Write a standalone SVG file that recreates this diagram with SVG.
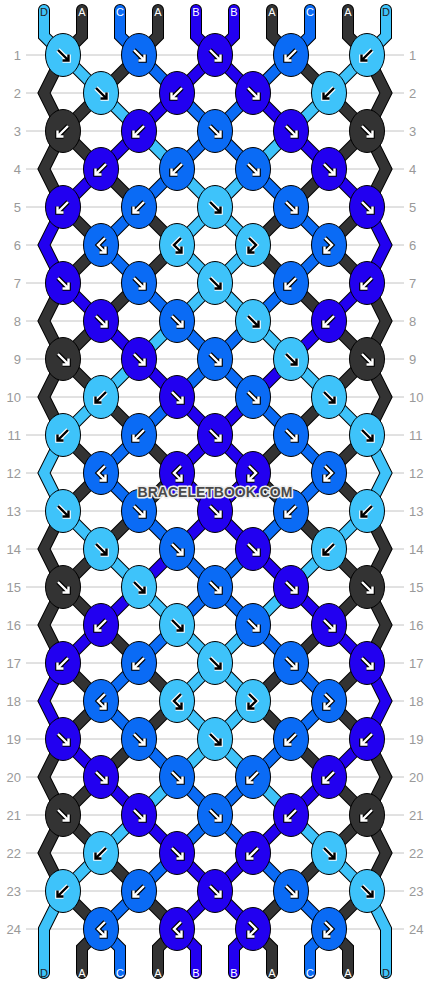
<svg xmlns="http://www.w3.org/2000/svg" xmlns:xlink="http://www.w3.org/1999/xlink" width="430" height="984" viewBox="0 0 430 984">
<style>
.gl{stroke:#c4c4c4;stroke-width:1}
.rn{font-family:"Liberation Sans",Arial,sans-serif;font-size:13px;fill:#999}
.rl{text-anchor:end}
.so{fill:none;stroke:#000;stroke-width:12;stroke-linejoin:miter;stroke-linecap:round}
.sc{fill:none;stroke-width:10;stroke-linejoin:miter;stroke-linecap:round}
.cD{stroke:#3EC3FA}.cA{stroke:#333333}.cC{stroke:#0A6BF5}.cB{stroke:#2200F0}
ellipse{stroke:#000;stroke-width:1}
.kD{fill:#3EC3FA}.kA{fill:#333333}.kC{fill:#0A6BF5}.kB{fill:#2200F0}
.aw{stroke:#000;color:#fff}
.ab{stroke:#fff;color:#000}
.ao{fill:none;stroke-width:4.6;stroke-linejoin:miter}
.ai{fill:none;stroke:currentColor;stroke-width:2.4;stroke-linejoin:miter}
.lt{font-family:"Liberation Sans",Arial,sans-serif;font-size:11px;text-anchor:middle;fill:#fff}
.ld{fill:#222}
.wm{font-family:"Liberation Sans",Arial,sans-serif;font-size:14px;font-weight:bold;text-anchor:middle;fill:#4a4a4a;stroke:#eee;stroke-width:3;paint-order:stroke;stroke-linejoin:round}
</style>
<defs>
<g id="aF"><path class="ao" d="M-5,-5 L4.5,4.5 M5.5,-0.5 L5.5,5.5 L-0.5,5.5"/><path class="ai" d="M-5,-5 L4.5,4.5 M5.5,-0.5 L5.5,5.5 L-0.5,5.5"/></g>
<g id="aB"><path class="ao" d="M5,-5 L-4.5,4.5 M-5.5,-0.5 L-5.5,5.5 L0.5,5.5"/><path class="ai" d="M5,-5 L-4.5,4.5 M-5.5,-0.5 L-5.5,5.5 L0.5,5.5"/></g>
<g id="aBF"><path class="ao" d="M4,-7 L-3,0 L3.5,6.5 M4.5,1.5 L4.5,7.5 L-1.5,7.5"/><path class="ai" d="M4,-7 L-3,0 L3.5,6.5 M4.5,1.5 L4.5,7.5 L-1.5,7.5"/></g>
<g id="aFB"><path class="ao" d="M-4,-7 L3,0 L-3.5,6.5 M-4.5,1.5 L-4.5,7.5 L1.5,7.5"/><path class="ai" d="M-4,-7 L3,0 L-3.5,6.5 M-4.5,1.5 L-4.5,7.5 L1.5,7.5"/></g>
</defs>
<rect width="430" height="984" fill="#fff"/>
<g id="grid">
<line class="gl" x1="26" y1="55" x2="404" y2="55"/><line class="gl" x1="26" y1="93" x2="404" y2="93"/><line class="gl" x1="26" y1="131" x2="404" y2="131"/><line class="gl" x1="26" y1="169" x2="404" y2="169"/><line class="gl" x1="26" y1="207" x2="404" y2="207"/><line class="gl" x1="26" y1="245" x2="404" y2="245"/><line class="gl" x1="26" y1="283" x2="404" y2="283"/><line class="gl" x1="26" y1="321" x2="404" y2="321"/><line class="gl" x1="26" y1="359" x2="404" y2="359"/><line class="gl" x1="26" y1="397" x2="404" y2="397"/><line class="gl" x1="26" y1="435" x2="404" y2="435"/><line class="gl" x1="26" y1="473" x2="404" y2="473"/><line class="gl" x1="26" y1="511" x2="404" y2="511"/><line class="gl" x1="26" y1="549" x2="404" y2="549"/><line class="gl" x1="26" y1="587" x2="404" y2="587"/><line class="gl" x1="26" y1="625" x2="404" y2="625"/><line class="gl" x1="26" y1="663" x2="404" y2="663"/><line class="gl" x1="26" y1="701" x2="404" y2="701"/><line class="gl" x1="26" y1="739" x2="404" y2="739"/><line class="gl" x1="26" y1="777" x2="404" y2="777"/><line class="gl" x1="26" y1="815" x2="404" y2="815"/><line class="gl" x1="26" y1="853" x2="404" y2="853"/><line class="gl" x1="26" y1="891" x2="404" y2="891"/><line class="gl" x1="26" y1="929" x2="404" y2="929"/>
</g>
<g id="rownums" class="rn">
<text class="rl" x="21" y="59.5">1</text><text class="rl" x="21" y="97.5">2</text><text class="rl" x="21" y="135.5">3</text><text class="rl" x="21" y="173.5">4</text><text class="rl" x="21" y="211.5">5</text><text class="rl" x="21" y="249.5">6</text><text class="rl" x="21" y="287.5">7</text><text class="rl" x="21" y="325.5">8</text><text class="rl" x="21" y="363.5">9</text><text class="rl" x="21" y="401.5">10</text><text class="rl" x="21" y="439.5">11</text><text class="rl" x="21" y="477.5">12</text><text class="rl" x="21" y="515.5">13</text><text class="rl" x="21" y="553.5">14</text><text class="rl" x="21" y="591.5">15</text><text class="rl" x="21" y="629.5">16</text><text class="rl" x="21" y="667.5">17</text><text class="rl" x="21" y="705.5">18</text><text class="rl" x="21" y="743.5">19</text><text class="rl" x="21" y="781.5">20</text><text class="rl" x="21" y="819.5">21</text><text class="rl" x="21" y="857.5">22</text><text class="rl" x="21" y="895.5">23</text><text class="rl" x="21" y="933.5">24</text>
<text x="409" y="59.5">1</text><text x="409" y="97.5">2</text><text x="409" y="135.5">3</text><text x="409" y="173.5">4</text><text x="409" y="211.5">5</text><text x="409" y="249.5">6</text><text x="409" y="287.5">7</text><text x="409" y="325.5">8</text><text x="409" y="363.5">9</text><text x="409" y="401.5">10</text><text x="409" y="439.5">11</text><text x="409" y="477.5">12</text><text x="409" y="515.5">13</text><text x="409" y="553.5">14</text><text x="409" y="591.5">15</text><text x="409" y="629.5">16</text><text x="409" y="667.5">17</text><text x="409" y="705.5">18</text><text x="409" y="743.5">19</text><text x="409" y="781.5">20</text><text x="409" y="819.5">21</text><text x="409" y="857.5">22</text><text x="409" y="895.5">23</text><text x="409" y="933.5">24</text>
</g>
<g id="connectors">
<g id="outlines" class="so">
<polyline id="o0" points="44,10 44,36 63,55 101,93 139,131 177,169 215,207 253,245 215,283 177,321 139,359 101,397 63,435 44,473 63,511 101,549 139,587 177,625 215,663 253,701 215,739 177,777 139,815 101,853 63,891 44,929 44,948 44,973"/>
<polyline id="o1" points="82,10 82,36 63,55 44,93 63,131 101,169 139,207 177,245 139,283 101,321 63,359 44,397 63,435 101,473 63,511 44,549 63,587 101,625 139,663 177,701 139,739 101,777 63,815 44,853 63,891 101,929 82,948 82,973"/>
<polyline id="o2" points="120,10 120,36 139,55 177,93 215,131 253,169 291,207 329,245 291,283 253,321 215,359 177,397 139,435 101,473 139,511 177,549 215,587 253,625 291,663 329,701 291,739 253,777 215,815 177,853 139,891 101,929 120,948 120,973"/>
<polyline id="o3" points="158,10 158,36 139,55 101,93 63,131 44,169 63,207 101,245 63,283 44,321 63,359 101,397 139,435 177,473 139,511 101,549 63,587 44,625 63,663 101,701 63,739 44,777 63,815 101,853 139,891 177,929 158,948 158,973"/>
<polyline id="o4" points="196,10 196,36 215,55 253,93 291,131 329,169 367,207 386,245 367,283 329,321 291,359 253,397 215,435 177,473 215,511 253,549 291,587 329,625 367,663 386,701 367,739 329,777 291,815 253,853 215,891 177,929 196,948 196,973"/>
<polyline id="o5" points="234,10 234,36 215,55 177,93 139,131 101,169 63,207 44,245 63,283 101,321 139,359 177,397 215,435 253,473 215,511 177,549 139,587 101,625 63,663 44,701 63,739 101,777 139,815 177,853 215,891 253,929 234,948 234,973"/>
<polyline id="o6" points="272,10 272,36 291,55 329,93 367,131 386,169 367,207 329,245 367,283 386,321 367,359 329,397 291,435 253,473 291,511 329,549 367,587 386,625 367,663 329,701 367,739 386,777 367,815 329,853 291,891 253,929 272,948 272,973"/>
<polyline id="o7" points="310,10 310,36 291,55 253,93 215,131 177,169 139,207 101,245 139,283 177,321 215,359 253,397 291,435 329,473 291,511 253,549 215,587 177,625 139,663 101,701 139,739 177,777 215,815 253,853 291,891 329,929 310,948 310,973"/>
<polyline id="o8" points="348,10 348,36 367,55 386,93 367,131 329,169 291,207 253,245 291,283 329,321 367,359 386,397 367,435 329,473 367,511 386,549 367,587 329,625 291,663 253,701 291,739 329,777 367,815 386,853 367,891 329,929 348,948 348,973"/>
<polyline id="o9" points="386,10 386,36 367,55 329,93 291,131 253,169 215,207 177,245 215,283 253,321 291,359 329,397 367,435 386,473 367,511 329,549 291,587 253,625 215,663 177,701 215,739 253,777 291,815 329,853 367,891 386,929 386,948 386,973"/>
</g>
<g id="strings">
<use xlink:href="#o0" href="#o0" class="sc cD"/>
<use xlink:href="#o1" href="#o1" class="sc cA"/>
<use xlink:href="#o2" href="#o2" class="sc cC"/>
<use xlink:href="#o3" href="#o3" class="sc cA"/>
<use xlink:href="#o4" href="#o4" class="sc cB"/>
<use xlink:href="#o5" href="#o5" class="sc cB"/>
<use xlink:href="#o6" href="#o6" class="sc cA"/>
<use xlink:href="#o7" href="#o7" class="sc cC"/>
<use xlink:href="#o8" href="#o8" class="sc cA"/>
<use xlink:href="#o9" href="#o9" class="sc cD"/>
</g>
</g>
<g id="knots">
<g id="k1-1"><ellipse class="kD" cx="63" cy="55" rx="17.5" ry="21.5"/><use href="#aF" x="63" y="55" class="ab"/></g>
<g id="k1-2"><ellipse class="kC" cx="139" cy="55" rx="17.5" ry="21.5"/><use href="#aF" x="139" y="55" class="aw"/></g>
<g id="k1-3"><ellipse class="kB" cx="215" cy="55" rx="17.5" ry="21.5"/><use href="#aF" x="215" y="55" class="aw"/></g>
<g id="k1-4"><ellipse class="kC" cx="291" cy="55" rx="17.5" ry="21.5"/><use href="#aB" x="291" y="55" class="aw"/></g>
<g id="k1-5"><ellipse class="kD" cx="367" cy="55" rx="17.5" ry="21.5"/><use href="#aB" x="367" y="55" class="ab"/></g>
<g id="k2-1"><ellipse class="kD" cx="101" cy="93" rx="17.5" ry="21.5"/><use href="#aF" x="101" y="93" class="ab"/></g>
<g id="k2-2"><ellipse class="kB" cx="177" cy="93" rx="17.5" ry="21.5"/><use href="#aB" x="177" y="93" class="aw"/></g>
<g id="k2-3"><ellipse class="kB" cx="253" cy="93" rx="17.5" ry="21.5"/><use href="#aF" x="253" y="93" class="aw"/></g>
<g id="k2-4"><ellipse class="kD" cx="329" cy="93" rx="17.5" ry="21.5"/><use href="#aB" x="329" y="93" class="ab"/></g>
<g id="k3-1"><ellipse class="kA" cx="63" cy="131" rx="17.5" ry="21.5"/><use href="#aB" x="63" y="131" class="aw"/></g>
<g id="k3-2"><ellipse class="kB" cx="139" cy="131" rx="17.5" ry="21.5"/><use href="#aB" x="139" y="131" class="aw"/></g>
<g id="k3-3"><ellipse class="kC" cx="215" cy="131" rx="17.5" ry="21.5"/><use href="#aF" x="215" y="131" class="aw"/></g>
<g id="k3-4"><ellipse class="kB" cx="291" cy="131" rx="17.5" ry="21.5"/><use href="#aF" x="291" y="131" class="aw"/></g>
<g id="k3-5"><ellipse class="kA" cx="367" cy="131" rx="17.5" ry="21.5"/><use href="#aF" x="367" y="131" class="aw"/></g>
<g id="k4-1"><ellipse class="kB" cx="101" cy="169" rx="17.5" ry="21.5"/><use href="#aB" x="101" y="169" class="aw"/></g>
<g id="k4-2"><ellipse class="kC" cx="177" cy="169" rx="17.5" ry="21.5"/><use href="#aB" x="177" y="169" class="aw"/></g>
<g id="k4-3"><ellipse class="kC" cx="253" cy="169" rx="17.5" ry="21.5"/><use href="#aF" x="253" y="169" class="aw"/></g>
<g id="k4-4"><ellipse class="kB" cx="329" cy="169" rx="17.5" ry="21.5"/><use href="#aF" x="329" y="169" class="aw"/></g>
<g id="k5-1"><ellipse class="kB" cx="63" cy="207" rx="17.5" ry="21.5"/><use href="#aB" x="63" y="207" class="aw"/></g>
<g id="k5-2"><ellipse class="kC" cx="139" cy="207" rx="17.5" ry="21.5"/><use href="#aB" x="139" y="207" class="aw"/></g>
<g id="k5-3"><ellipse class="kD" cx="215" cy="207" rx="17.5" ry="21.5"/><use href="#aF" x="215" y="207" class="ab"/></g>
<g id="k5-4"><ellipse class="kC" cx="291" cy="207" rx="17.5" ry="21.5"/><use href="#aF" x="291" y="207" class="aw"/></g>
<g id="k5-5"><ellipse class="kB" cx="367" cy="207" rx="17.5" ry="21.5"/><use href="#aF" x="367" y="207" class="aw"/></g>
<g id="k6-1"><ellipse class="kC" cx="101" cy="245" rx="17.5" ry="21.5"/><use href="#aBF" x="101" y="245" class="aw"/></g>
<g id="k6-2"><ellipse class="kD" cx="177" cy="245" rx="17.5" ry="21.5"/><use href="#aBF" x="177" y="245" class="ab"/></g>
<g id="k6-3"><ellipse class="kD" cx="253" cy="245" rx="17.5" ry="21.5"/><use href="#aFB" x="253" y="245" class="ab"/></g>
<g id="k6-4"><ellipse class="kC" cx="329" cy="245" rx="17.5" ry="21.5"/><use href="#aFB" x="329" y="245" class="aw"/></g>
<g id="k7-1"><ellipse class="kB" cx="63" cy="283" rx="17.5" ry="21.5"/><use href="#aF" x="63" y="283" class="aw"/></g>
<g id="k7-2"><ellipse class="kC" cx="139" cy="283" rx="17.5" ry="21.5"/><use href="#aF" x="139" y="283" class="aw"/></g>
<g id="k7-3"><ellipse class="kD" cx="215" cy="283" rx="17.5" ry="21.5"/><use href="#aF" x="215" y="283" class="ab"/></g>
<g id="k7-4"><ellipse class="kC" cx="291" cy="283" rx="17.5" ry="21.5"/><use href="#aB" x="291" y="283" class="aw"/></g>
<g id="k7-5"><ellipse class="kB" cx="367" cy="283" rx="17.5" ry="21.5"/><use href="#aB" x="367" y="283" class="aw"/></g>
<g id="k8-1"><ellipse class="kB" cx="101" cy="321" rx="17.5" ry="21.5"/><use href="#aF" x="101" y="321" class="aw"/></g>
<g id="k8-2"><ellipse class="kC" cx="177" cy="321" rx="17.5" ry="21.5"/><use href="#aF" x="177" y="321" class="aw"/></g>
<g id="k8-3"><ellipse class="kD" cx="253" cy="321" rx="17.5" ry="21.5"/><use href="#aF" x="253" y="321" class="ab"/></g>
<g id="k8-4"><ellipse class="kB" cx="329" cy="321" rx="17.5" ry="21.5"/><use href="#aB" x="329" y="321" class="aw"/></g>
<g id="k9-1"><ellipse class="kA" cx="63" cy="359" rx="17.5" ry="21.5"/><use href="#aF" x="63" y="359" class="aw"/></g>
<g id="k9-2"><ellipse class="kB" cx="139" cy="359" rx="17.5" ry="21.5"/><use href="#aF" x="139" y="359" class="aw"/></g>
<g id="k9-3"><ellipse class="kC" cx="215" cy="359" rx="17.5" ry="21.5"/><use href="#aF" x="215" y="359" class="aw"/></g>
<g id="k9-4"><ellipse class="kD" cx="291" cy="359" rx="17.5" ry="21.5"/><use href="#aF" x="291" y="359" class="ab"/></g>
<g id="k9-5"><ellipse class="kA" cx="367" cy="359" rx="17.5" ry="21.5"/><use href="#aF" x="367" y="359" class="aw"/></g>
<g id="k10-1"><ellipse class="kD" cx="101" cy="397" rx="17.5" ry="21.5"/><use href="#aB" x="101" y="397" class="ab"/></g>
<g id="k10-2"><ellipse class="kB" cx="177" cy="397" rx="17.5" ry="21.5"/><use href="#aF" x="177" y="397" class="aw"/></g>
<g id="k10-3"><ellipse class="kC" cx="253" cy="397" rx="17.5" ry="21.5"/><use href="#aF" x="253" y="397" class="aw"/></g>
<g id="k10-4"><ellipse class="kD" cx="329" cy="397" rx="17.5" ry="21.5"/><use href="#aF" x="329" y="397" class="ab"/></g>
<g id="k11-1"><ellipse class="kD" cx="63" cy="435" rx="17.5" ry="21.5"/><use href="#aB" x="63" y="435" class="ab"/></g>
<g id="k11-2"><ellipse class="kC" cx="139" cy="435" rx="17.5" ry="21.5"/><use href="#aB" x="139" y="435" class="aw"/></g>
<g id="k11-3"><ellipse class="kB" cx="215" cy="435" rx="17.5" ry="21.5"/><use href="#aF" x="215" y="435" class="aw"/></g>
<g id="k11-4"><ellipse class="kC" cx="291" cy="435" rx="17.5" ry="21.5"/><use href="#aF" x="291" y="435" class="aw"/></g>
<g id="k11-5"><ellipse class="kD" cx="367" cy="435" rx="17.5" ry="21.5"/><use href="#aF" x="367" y="435" class="ab"/></g>
<g id="k12-1"><ellipse class="kC" cx="101" cy="473" rx="17.5" ry="21.5"/><use href="#aBF" x="101" y="473" class="aw"/></g>
<g id="k12-2"><ellipse class="kB" cx="177" cy="473" rx="17.5" ry="21.5"/><use href="#aBF" x="177" y="473" class="aw"/></g>
<g id="k12-3"><ellipse class="kB" cx="253" cy="473" rx="17.5" ry="21.5"/><use href="#aFB" x="253" y="473" class="aw"/></g>
<g id="k12-4"><ellipse class="kC" cx="329" cy="473" rx="17.5" ry="21.5"/><use href="#aFB" x="329" y="473" class="aw"/></g>
<g id="k13-1"><ellipse class="kD" cx="63" cy="511" rx="17.5" ry="21.5"/><use href="#aF" x="63" y="511" class="ab"/></g>
<g id="k13-2"><ellipse class="kC" cx="139" cy="511" rx="17.5" ry="21.5"/><use href="#aF" x="139" y="511" class="aw"/></g>
<g id="k13-3"><ellipse class="kB" cx="215" cy="511" rx="17.5" ry="21.5"/><use href="#aF" x="215" y="511" class="aw"/></g>
<g id="k13-4"><ellipse class="kC" cx="291" cy="511" rx="17.5" ry="21.5"/><use href="#aB" x="291" y="511" class="aw"/></g>
<g id="k13-5"><ellipse class="kD" cx="367" cy="511" rx="17.5" ry="21.5"/><use href="#aB" x="367" y="511" class="ab"/></g>
<g id="k14-1"><ellipse class="kD" cx="101" cy="549" rx="17.5" ry="21.5"/><use href="#aF" x="101" y="549" class="ab"/></g>
<g id="k14-2"><ellipse class="kC" cx="177" cy="549" rx="17.5" ry="21.5"/><use href="#aF" x="177" y="549" class="aw"/></g>
<g id="k14-3"><ellipse class="kB" cx="253" cy="549" rx="17.5" ry="21.5"/><use href="#aF" x="253" y="549" class="aw"/></g>
<g id="k14-4"><ellipse class="kD" cx="329" cy="549" rx="17.5" ry="21.5"/><use href="#aB" x="329" y="549" class="ab"/></g>
<g id="k15-1"><ellipse class="kA" cx="63" cy="587" rx="17.5" ry="21.5"/><use href="#aF" x="63" y="587" class="aw"/></g>
<g id="k15-2"><ellipse class="kD" cx="139" cy="587" rx="17.5" ry="21.5"/><use href="#aF" x="139" y="587" class="ab"/></g>
<g id="k15-3"><ellipse class="kC" cx="215" cy="587" rx="17.5" ry="21.5"/><use href="#aF" x="215" y="587" class="aw"/></g>
<g id="k15-4"><ellipse class="kB" cx="291" cy="587" rx="17.5" ry="21.5"/><use href="#aF" x="291" y="587" class="aw"/></g>
<g id="k15-5"><ellipse class="kA" cx="367" cy="587" rx="17.5" ry="21.5"/><use href="#aF" x="367" y="587" class="aw"/></g>
<g id="k16-1"><ellipse class="kB" cx="101" cy="625" rx="17.5" ry="21.5"/><use href="#aB" x="101" y="625" class="aw"/></g>
<g id="k16-2"><ellipse class="kD" cx="177" cy="625" rx="17.5" ry="21.5"/><use href="#aF" x="177" y="625" class="ab"/></g>
<g id="k16-3"><ellipse class="kC" cx="253" cy="625" rx="17.5" ry="21.5"/><use href="#aF" x="253" y="625" class="aw"/></g>
<g id="k16-4"><ellipse class="kB" cx="329" cy="625" rx="17.5" ry="21.5"/><use href="#aF" x="329" y="625" class="aw"/></g>
<g id="k17-1"><ellipse class="kB" cx="63" cy="663" rx="17.5" ry="21.5"/><use href="#aB" x="63" y="663" class="aw"/></g>
<g id="k17-2"><ellipse class="kC" cx="139" cy="663" rx="17.5" ry="21.5"/><use href="#aB" x="139" y="663" class="aw"/></g>
<g id="k17-3"><ellipse class="kD" cx="215" cy="663" rx="17.5" ry="21.5"/><use href="#aF" x="215" y="663" class="ab"/></g>
<g id="k17-4"><ellipse class="kC" cx="291" cy="663" rx="17.5" ry="21.5"/><use href="#aF" x="291" y="663" class="aw"/></g>
<g id="k17-5"><ellipse class="kB" cx="367" cy="663" rx="17.5" ry="21.5"/><use href="#aF" x="367" y="663" class="aw"/></g>
<g id="k18-1"><ellipse class="kC" cx="101" cy="701" rx="17.5" ry="21.5"/><use href="#aBF" x="101" y="701" class="aw"/></g>
<g id="k18-2"><ellipse class="kD" cx="177" cy="701" rx="17.5" ry="21.5"/><use href="#aBF" x="177" y="701" class="ab"/></g>
<g id="k18-3"><ellipse class="kD" cx="253" cy="701" rx="17.5" ry="21.5"/><use href="#aFB" x="253" y="701" class="ab"/></g>
<g id="k18-4"><ellipse class="kC" cx="329" cy="701" rx="17.5" ry="21.5"/><use href="#aFB" x="329" y="701" class="aw"/></g>
<g id="k19-1"><ellipse class="kB" cx="63" cy="739" rx="17.5" ry="21.5"/><use href="#aF" x="63" y="739" class="aw"/></g>
<g id="k19-2"><ellipse class="kC" cx="139" cy="739" rx="17.5" ry="21.5"/><use href="#aF" x="139" y="739" class="aw"/></g>
<g id="k19-3"><ellipse class="kD" cx="215" cy="739" rx="17.5" ry="21.5"/><use href="#aF" x="215" y="739" class="ab"/></g>
<g id="k19-4"><ellipse class="kC" cx="291" cy="739" rx="17.5" ry="21.5"/><use href="#aB" x="291" y="739" class="aw"/></g>
<g id="k19-5"><ellipse class="kB" cx="367" cy="739" rx="17.5" ry="21.5"/><use href="#aB" x="367" y="739" class="aw"/></g>
<g id="k20-1"><ellipse class="kB" cx="101" cy="777" rx="17.5" ry="21.5"/><use href="#aF" x="101" y="777" class="aw"/></g>
<g id="k20-2"><ellipse class="kC" cx="177" cy="777" rx="17.5" ry="21.5"/><use href="#aF" x="177" y="777" class="aw"/></g>
<g id="k20-3"><ellipse class="kC" cx="253" cy="777" rx="17.5" ry="21.5"/><use href="#aB" x="253" y="777" class="aw"/></g>
<g id="k20-4"><ellipse class="kB" cx="329" cy="777" rx="17.5" ry="21.5"/><use href="#aB" x="329" y="777" class="aw"/></g>
<g id="k21-1"><ellipse class="kA" cx="63" cy="815" rx="17.5" ry="21.5"/><use href="#aF" x="63" y="815" class="aw"/></g>
<g id="k21-2"><ellipse class="kB" cx="139" cy="815" rx="17.5" ry="21.5"/><use href="#aF" x="139" y="815" class="aw"/></g>
<g id="k21-3"><ellipse class="kC" cx="215" cy="815" rx="17.5" ry="21.5"/><use href="#aF" x="215" y="815" class="aw"/></g>
<g id="k21-4"><ellipse class="kB" cx="291" cy="815" rx="17.5" ry="21.5"/><use href="#aB" x="291" y="815" class="aw"/></g>
<g id="k21-5"><ellipse class="kA" cx="367" cy="815" rx="17.5" ry="21.5"/><use href="#aB" x="367" y="815" class="aw"/></g>
<g id="k22-1"><ellipse class="kD" cx="101" cy="853" rx="17.5" ry="21.5"/><use href="#aB" x="101" y="853" class="ab"/></g>
<g id="k22-2"><ellipse class="kB" cx="177" cy="853" rx="17.5" ry="21.5"/><use href="#aF" x="177" y="853" class="aw"/></g>
<g id="k22-3"><ellipse class="kB" cx="253" cy="853" rx="17.5" ry="21.5"/><use href="#aB" x="253" y="853" class="aw"/></g>
<g id="k22-4"><ellipse class="kD" cx="329" cy="853" rx="17.5" ry="21.5"/><use href="#aF" x="329" y="853" class="ab"/></g>
<g id="k23-1"><ellipse class="kD" cx="63" cy="891" rx="17.5" ry="21.5"/><use href="#aB" x="63" y="891" class="ab"/></g>
<g id="k23-2"><ellipse class="kC" cx="139" cy="891" rx="17.5" ry="21.5"/><use href="#aB" x="139" y="891" class="aw"/></g>
<g id="k23-3"><ellipse class="kB" cx="215" cy="891" rx="17.5" ry="21.5"/><use href="#aF" x="215" y="891" class="aw"/></g>
<g id="k23-4"><ellipse class="kC" cx="291" cy="891" rx="17.5" ry="21.5"/><use href="#aF" x="291" y="891" class="aw"/></g>
<g id="k23-5"><ellipse class="kD" cx="367" cy="891" rx="17.5" ry="21.5"/><use href="#aF" x="367" y="891" class="ab"/></g>
<g id="k24-1"><ellipse class="kC" cx="101" cy="929" rx="17.5" ry="21.5"/><use href="#aBF" x="101" y="929" class="aw"/></g>
<g id="k24-2"><ellipse class="kB" cx="177" cy="929" rx="17.5" ry="21.5"/><use href="#aBF" x="177" y="929" class="aw"/></g>
<g id="k24-3"><ellipse class="kB" cx="253" cy="929" rx="17.5" ry="21.5"/><use href="#aFB" x="253" y="929" class="aw"/></g>
<g id="k24-4"><ellipse class="kC" cx="329" cy="929" rx="17.5" ry="21.5"/><use href="#aFB" x="329" y="929" class="aw"/></g>
</g>
<g id="labels" class="lt">
<text class="ld" x="44" y="16">D</text><text x="82" y="16">A</text><text x="120" y="16">C</text><text x="158" y="16">A</text><text x="196" y="16">B</text><text x="234" y="16">B</text><text x="272" y="16">A</text><text x="310" y="16">C</text><text x="348" y="16">A</text><text class="ld" x="386" y="16">D</text>
<text class="ld" x="44" y="977">D</text><text x="82" y="977">A</text><text x="120" y="977">C</text><text x="158" y="977">A</text><text x="196" y="977">B</text><text x="234" y="977">B</text><text x="272" y="977">A</text><text x="310" y="977">C</text><text x="348" y="977">A</text><text class="ld" x="386" y="977">D</text>
</g>
<text class="wm" x="215" y="496.5">BRACELETBOOK.COM</text>
</svg>
